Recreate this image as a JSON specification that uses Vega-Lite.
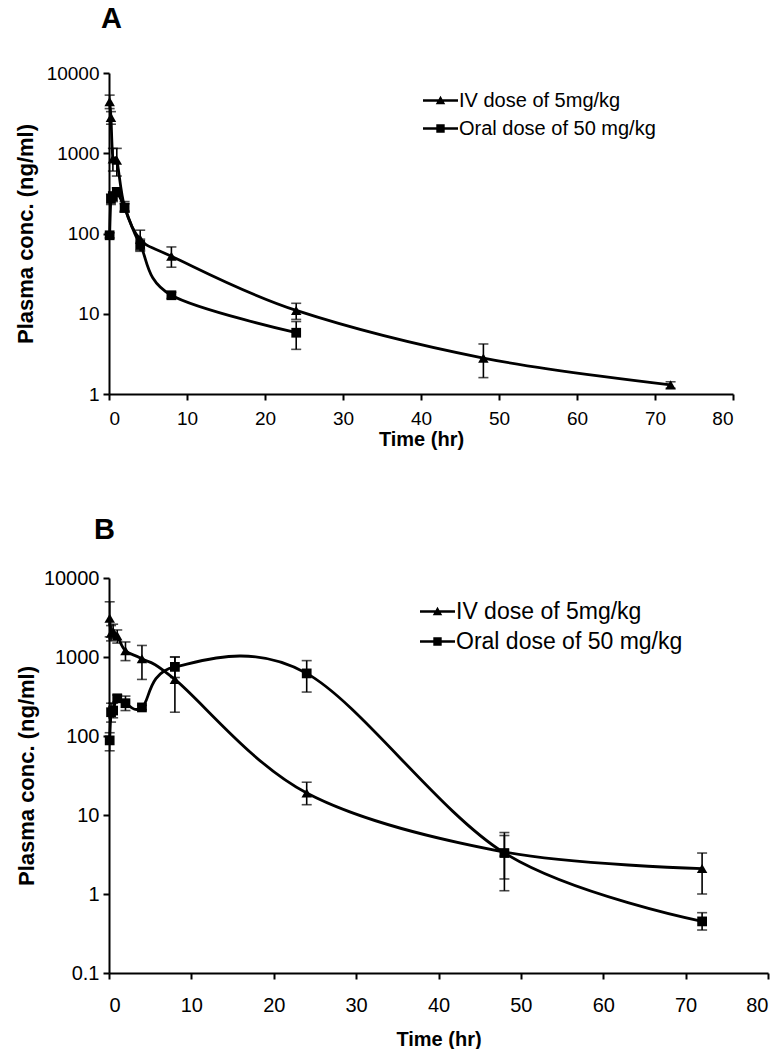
{
  "$schema": "https://vega.github.io/schema/vega-lite/v6.json",
  "background": "white",
  "padding": {"left": 14, "top": 5, "right": 1, "bottom": 0},
  "config": {
    "font": "Liberation Sans",
    "view": {"stroke": null},
    "axis": {"domainColor": "black", "domainWidth": 2, "tickColor": "black", "tickWidth": 2, "tickSize": 6, "labelColor": "black", "labelFontSize": 19, "titleFontSize": 20, "titleFontWeight": "bold", "titleColor": "black", "grid": false, "labelPadding": 4},
    "title": {"fontSize": 29, "fontWeight": "bold", "anchor": "start", "frame": "group", "color": "black"},
    "concat": {"spacing": 67}
  },
  "resolve": {"scale": {"shape": "independent"}, "legend": {"shape": "independent"}},
  "datasets": {
    "A": [
      {"group": "IV dose of 5mg/kg", "t": 0.083, "c": 4400, "lo": 3600, "hi": 5300},
      {"group": "IV dose of 5mg/kg", "t": 0.25, "c": 2800, "lo": 2300, "hi": 3300},
      {"group": "IV dose of 5mg/kg", "t": 0.5, "c": 850, "lo": 600, "hi": 1150},
      {"group": "IV dose of 5mg/kg", "t": 1, "c": 820, "lo": 520, "hi": 1150},
      {"group": "IV dose of 5mg/kg", "t": 2, "c": 215, "lo": 185, "hi": 250},
      {"group": "IV dose of 5mg/kg", "t": 4, "c": 85, "lo": 62, "hi": 110},
      {"group": "IV dose of 5mg/kg", "t": 8, "c": 52, "lo": 38, "hi": 68},
      {"group": "IV dose of 5mg/kg", "t": 24, "c": 11, "lo": 8.5, "hi": 13.5},
      {"group": "IV dose of 5mg/kg", "t": 48, "c": 2.8, "lo": 1.6, "hi": 4.2},
      {"group": "IV dose of 5mg/kg", "t": 72, "c": 1.3, "lo": 1.18, "hi": 1.42},
      {"group": "Oral dose of 50 mg/kg", "t": 0.083, "c": 95, "lo": 88, "hi": 102},
      {"group": "Oral dose of 50 mg/kg", "t": 0.25, "c": 270, "lo": 230, "hi": 310},
      {"group": "Oral dose of 50 mg/kg", "t": 0.5, "c": 290, "lo": 250, "hi": 330},
      {"group": "Oral dose of 50 mg/kg", "t": 1, "c": 330, "lo": 290, "hi": 370},
      {"group": "Oral dose of 50 mg/kg", "t": 2, "c": 210, "lo": 185, "hi": 235},
      {"group": "Oral dose of 50 mg/kg", "t": 4, "c": 72, "lo": 60, "hi": 85},
      {"group": "Oral dose of 50 mg/kg", "t": 8, "c": 17, "lo": 15.5, "hi": 18.5},
      {"group": "Oral dose of 50 mg/kg", "t": 24, "c": 5.8, "lo": 3.6, "hi": 8.0}
    ],
    "B": [
      {"group": "IV dose of 5mg/kg", "t": 0.083, "c": 3100, "lo": 1800, "hi": 5000},
      {"group": "IV dose of 5mg/kg", "t": 0.25, "c": 2000, "lo": 1600, "hi": 2500},
      {"group": "IV dose of 5mg/kg", "t": 0.5, "c": 2100, "lo": 1700, "hi": 2600},
      {"group": "IV dose of 5mg/kg", "t": 1, "c": 1850, "lo": 1500, "hi": 2200},
      {"group": "IV dose of 5mg/kg", "t": 2, "c": 1200, "lo": 900, "hi": 1550},
      {"group": "IV dose of 5mg/kg", "t": 4, "c": 950, "lo": 520, "hi": 1400},
      {"group": "IV dose of 5mg/kg", "t": 8, "c": 520, "lo": 200, "hi": 1000},
      {"group": "IV dose of 5mg/kg", "t": 24, "c": 19, "lo": 13.5, "hi": 26},
      {"group": "IV dose of 5mg/kg", "t": 48, "c": 3.4, "lo": 1.1, "hi": 6.0},
      {"group": "IV dose of 5mg/kg", "t": 72, "c": 2.1, "lo": 1.0, "hi": 3.3},
      {"group": "Oral dose of 50 mg/kg", "t": 0.083, "c": 88, "lo": 65, "hi": 110},
      {"group": "Oral dose of 50 mg/kg", "t": 0.25, "c": 200, "lo": 150, "hi": 260},
      {"group": "Oral dose of 50 mg/kg", "t": 0.5, "c": 210, "lo": 170, "hi": 260},
      {"group": "Oral dose of 50 mg/kg", "t": 1, "c": 300, "lo": 270, "hi": 330},
      {"group": "Oral dose of 50 mg/kg", "t": 2, "c": 260, "lo": 210, "hi": 320},
      {"group": "Oral dose of 50 mg/kg", "t": 4, "c": 230, "lo": 215, "hi": 245},
      {"group": "Oral dose of 50 mg/kg", "t": 8, "c": 750, "lo": 550, "hi": 1000},
      {"group": "Oral dose of 50 mg/kg", "t": 24, "c": 620, "lo": 360, "hi": 900},
      {"group": "Oral dose of 50 mg/kg", "t": 48, "c": 3.3, "lo": 1.55, "hi": 5.5},
      {"group": "Oral dose of 50 mg/kg", "t": 72, "c": 0.45, "lo": 0.35, "hi": 0.58}
    ]
  },
  "vconcat": [
    {
      "title": {"text": "A", "dx": -8, "offset": 30},
      "width": 624,
      "height": 321,
      "data": {"name": "A"},
      "encoding": {
        "x": {"field": "t", "type": "quantitative", "scale": {"domain": [0, 80], "nice": false}, "axis": {"title": "Time (hr)", "values": [0, 10, 20, 30, 40, 50, 60, 70, 80], "labelPadding": 9, "titlePadding": 1}}
      },
      "layer": [
        {
          "mark": {"type": "line", "interpolate": "cardinal", "color": "black", "strokeWidth": 2.8},
          "encoding": {
            "y": {"field": "c", "type": "quantitative", "scale": {"type": "log", "domain": [1, 10000], "nice": false}, "axis": {"title": "Plasma conc. (ng/ml)", "values": [1, 10, 100, 1000, 10000], "format": "~g", "titleFontSize": 22, "titlePadding": 9}},
            "detail": {"field": "group"}
          }
        },
        {"mark": {"type": "rule", "color": "black", "strokeWidth": 1.6}, "encoding": {"y": {"field": "lo", "type": "quantitative"}, "y2": {"field": "hi"}}},
        {"mark": {"type": "tick", "orient": "horizontal", "color": "black", "size": 10, "thickness": 1.6}, "encoding": {"y": {"field": "lo", "type": "quantitative"}}},
        {"mark": {"type": "tick", "orient": "horizontal", "color": "black", "size": 10, "thickness": 1.6}, "encoding": {"y": {"field": "hi", "type": "quantitative"}}},
        {
          "transform": [{"filter": "datum.group === 'IV dose of 5mg/kg'"}],
          "mark": {"type": "point", "shape": "triangle-up", "filled": true, "color": "black", "opacity": 1, "size": 110},
          "encoding": {"y": {"field": "c", "type": "quantitative"}}
        },
        {
          "transform": [{"filter": "datum.group !== 'IV dose of 5mg/kg'"}],
          "mark": {"type": "point", "shape": "square", "filled": true, "color": "black", "opacity": 1, "size": 95},
          "encoding": {"y": {"field": "c", "type": "quantitative"}}
        },
        {
          "mark": {"type": "point", "filled": true, "color": "black", "opacity": 0},
          "encoding": {
            "y": {"field": "c", "type": "quantitative"},
            "shape": {"field": "group", "type": "nominal", "scale": {"domain": ["IV dose of 5mg/kg", "Oral dose of 50 mg/kg"], "range": ["M-1,-0.065H1V0.065H-1ZM-0.27,0.22L0,-0.27L0.27,0.22Z", "M-1,-0.065H1V0.065H-1ZM-0.24,-0.24H0.24V0.24H-0.24Z"]},
              "legend": {"title": null, "orient": "none", "legendX": 314, "legendY": 10, "symbolSize": 1225, "symbolOpacity": 1, "symbolFillColor": "black", "symbolStrokeColor": "black", "symbolStrokeWidth": 0, "labelFontSize": 20, "labelColor": "black", "labelOffset": 1, "rowPadding": 0, "labelLimit": 400,
                "encode": {"symbols": {"update": {"opacity": {"value": 1}, "fillOpacity": {"value": 1}, "fill": {"value": "black"}, "size": {"value": 1225}}}}}}
          }
        }
      ]
    },
    {
      "title": {"text": "B", "dx": -15, "offset": 23},
      "width": 659,
      "height": 395,
      "data": {"name": "B"},
      "encoding": {
        "x": {"field": "t", "type": "quantitative", "scale": {"domain": [0, 80], "nice": false}, "axis": {"title": "Time (hr)", "values": [0, 10, 20, 30, 40, 50, 60, 70, 80], "labelFontSize": 20, "labelPadding": 16, "titlePadding": 14}}
      },
      "layer": [
        {
          "mark": {"type": "line", "interpolate": "cardinal", "color": "black", "strokeWidth": 2.8},
          "encoding": {
            "y": {"field": "c", "type": "quantitative", "scale": {"type": "log", "domain": [0.1, 10000], "nice": false}, "axis": {"title": "Plasma conc. (ng/ml)", "values": [0.1, 1, 10, 100, 1000, 10000], "format": "~g", "labelFontSize": 20, "titleFontSize": 22, "titlePadding": 5}},
            "detail": {"field": "group"}
          }
        },
        {"mark": {"type": "rule", "color": "black", "strokeWidth": 1.6}, "encoding": {"y": {"field": "lo", "type": "quantitative"}, "y2": {"field": "hi"}}},
        {"mark": {"type": "tick", "orient": "horizontal", "color": "black", "size": 10, "thickness": 1.6}, "encoding": {"y": {"field": "lo", "type": "quantitative"}}},
        {"mark": {"type": "tick", "orient": "horizontal", "color": "black", "size": 10, "thickness": 1.6}, "encoding": {"y": {"field": "hi", "type": "quantitative"}}},
        {
          "transform": [{"filter": "datum.group === 'IV dose of 5mg/kg'"}],
          "mark": {"type": "point", "shape": "triangle-up", "filled": true, "color": "black", "opacity": 1, "size": 110},
          "encoding": {"y": {"field": "c", "type": "quantitative"}}
        },
        {
          "transform": [{"filter": "datum.group !== 'IV dose of 5mg/kg'"}],
          "mark": {"type": "point", "shape": "square", "filled": true, "color": "black", "opacity": 1, "size": 95},
          "encoding": {"y": {"field": "c", "type": "quantitative"}}
        },
        {
          "mark": {"type": "point", "filled": true, "color": "black", "opacity": 0},
          "encoding": {
            "y": {"field": "c", "type": "quantitative"},
            "shape": {"field": "group", "type": "nominal", "scale": {"domain": ["IV dose of 5mg/kg", "Oral dose of 50 mg/kg"], "range": ["M-1,-0.065H1V0.065H-1ZM-0.27,0.22L0,-0.27L0.27,0.22Z", "M-1,-0.065H1V0.065H-1ZM-0.24,-0.24H0.24V0.24H-0.24Z"]},
              "legend": {"title": null, "orient": "none", "legendX": 311, "legendY": 16, "symbolSize": 1225, "symbolOpacity": 1, "symbolFillColor": "black", "symbolStrokeColor": "black", "symbolStrokeWidth": 0, "labelFontSize": 23, "labelColor": "black", "labelOffset": 1, "rowPadding": 0, "labelLimit": 400,
                "encode": {"symbols": {"update": {"opacity": {"value": 1}, "fillOpacity": {"value": 1}, "fill": {"value": "black"}, "size": {"value": 1225}}}}}}
          }
        }
      ]
    }
  ]
}
